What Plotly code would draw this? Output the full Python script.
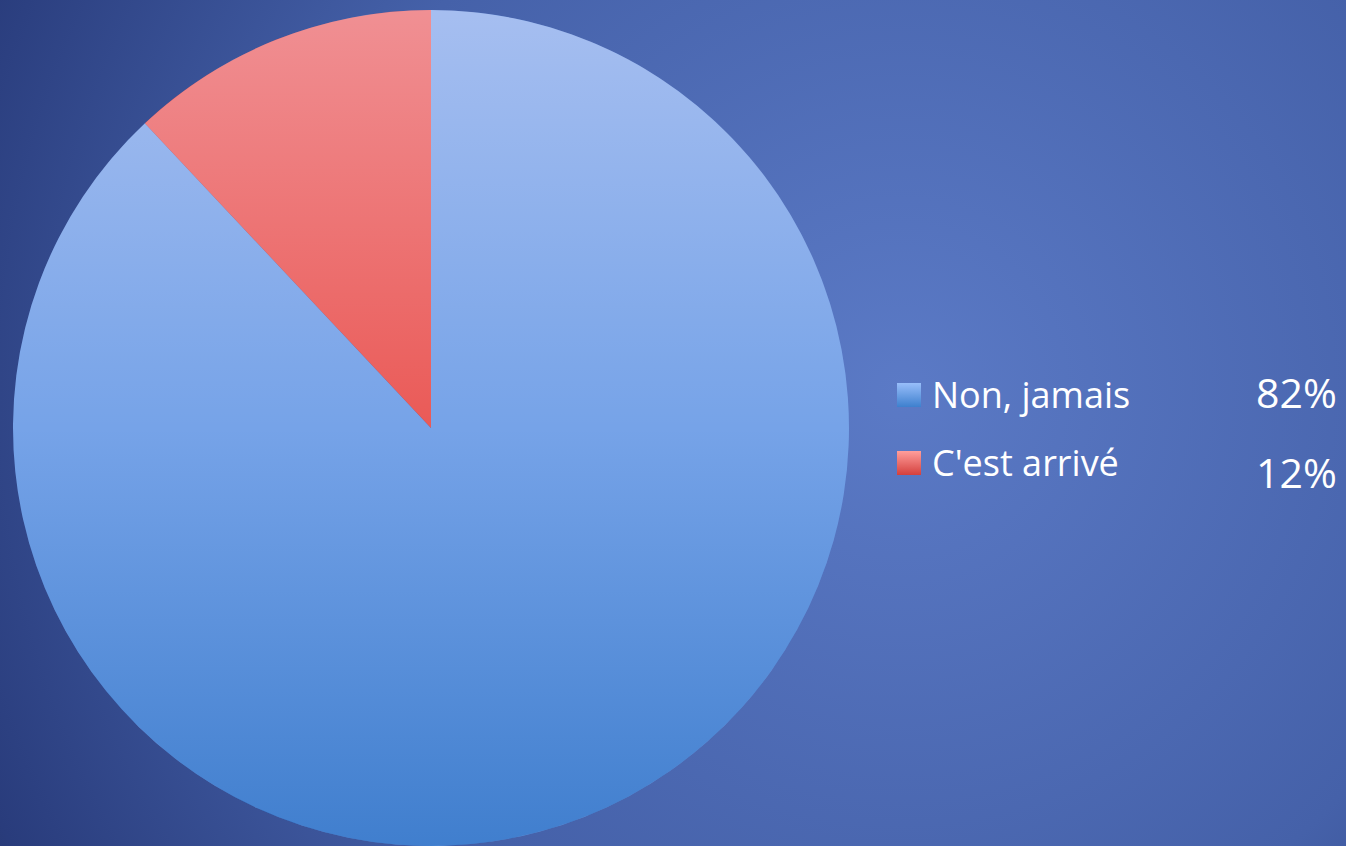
import base64
import plotly.graph_objects as go

# ---- data ----
labels = ["Non, jamais", "C'est arrivé"]
values = [88, 12]            # slice sizes
pct_labels = ["82%", "12%"]  # percentages printed next to the legend

# ---- style ----
W, H = 1346, 846
slice_colors = ["#76A3E8", "#EA5A57"]
swatch_grad = [("#98BEFA", "#3E80CE"), ("#FF9E9B", "#D4403D")]
FONT = "Open Sans"

# pie placement (paper coordinates)
cx_px, cy_px, r_px = 431, 428, 418
dom_x = [(cx_px - r_px) / W, (cx_px + r_px) / W]
dom_y = [1 - (cy_px + r_px) / H, 1 - (cy_px - r_px) / H]


def svg_uri(svg):
    return "data:image/svg+xml;base64," + base64.b64encode(svg.encode("utf-8")).decode("ascii")


bg_svg = f"""<svg xmlns='http://www.w3.org/2000/svg' width='{W}' height='{H}' viewBox='0 0 {W} {H}' preserveAspectRatio='none'>
<defs><radialGradient id='g' gradientUnits='userSpaceOnUse' cx='900' cy='390' r='1050'>
<stop offset='0' stop-color='#5B7AC6'/>
<stop offset='0.57' stop-color='#4561A9'/>
<stop offset='0.95' stop-color='#293C7C'/>
<stop offset='1' stop-color='#26386F'/>
</radialGradient></defs>
<rect x='0' y='0' width='{W}' height='{H}' fill='url(#g)'/>
</svg>"""

d = 2 * r_px
shade_svg = f"""<svg xmlns='http://www.w3.org/2000/svg' width='{d}' height='{d}' viewBox='0 0 {d} {d}' preserveAspectRatio='none'>
<defs><linearGradient id='s' x1='0' y1='0' x2='0' y2='1'>
<stop offset='0' stop-color='#FBEFFF' stop-opacity='0.36'/>
<stop offset='0.5' stop-color='#FBEFFF' stop-opacity='0'/>
<stop offset='0.5' stop-color='#0A5AB4' stop-opacity='0'/>
<stop offset='1' stop-color='#0A5AB4' stop-opacity='0.5'/>
</linearGradient></defs>
<circle cx='{r_px}' cy='{r_px}' r='{r_px}' fill='url(#s)'/>
</svg>"""


def swatch_svg(c1, c2):
    return f"""<svg xmlns='http://www.w3.org/2000/svg' width='24' height='24' viewBox='0 0 24 24' preserveAspectRatio='none'>
<defs><linearGradient id='w' x1='0' y1='0' x2='0' y2='1'>
<stop offset='0' stop-color='{c1}'/><stop offset='1' stop-color='{c2}'/>
</linearGradient></defs><rect width='24' height='24' fill='url(#w)'/></svg>"""


fig = go.Figure(
    go.Pie(
        labels=labels,
        values=values,
        sort=False,
        direction="clockwise",
        rotation=0,
        marker=dict(colors=slice_colors, line=dict(width=0)),
        textinfo="none",
        hoverinfo="label+value",
        domain=dict(x=dom_x, y=dom_y),
        showlegend=False,
    )
)

images = [
    dict(source=svg_uri(bg_svg), xref="paper", yref="paper", x=0, y=1, sizex=1, sizey=1,
         xanchor="left", yanchor="top", sizing="stretch", layer="below"),
    dict(source=svg_uri(shade_svg), xref="paper", yref="paper", x=dom_x[0], y=dom_y[1],
         sizex=dom_x[1] - dom_x[0], sizey=dom_y[1] - dom_y[0],
         xanchor="left", yanchor="top", sizing="stretch", layer="above"),
]

annotations = []
legend_rows_px = [395, 463]
pct_rows_px = [392, 472]
for i, lab in enumerate(labels):
    yc = legend_rows_px[i]
    images.append(dict(source=svg_uri(swatch_svg(*swatch_grad[i])), xref="paper", yref="paper",
                       x=897 / W, y=1 - (yc - 12) / H, sizex=24 / W, sizey=24 / H,
                       xanchor="left", yanchor="top", sizing="stretch", layer="above"))
    annotations.append(dict(text=lab, xref="paper", yref="paper", x=930 / W, y=1 - yc / H,
                            xanchor="left", yanchor="middle", showarrow=False,
                            font=dict(family=FONT, size=36, color="white")))
    annotations.append(dict(text=pct_labels[i], xref="paper", yref="paper", x=1339 / W,
                            y=1 - pct_rows_px[i] / H, xanchor="right", yanchor="middle",
                            showarrow=False, font=dict(family=FONT, size=41, color="white")))

fig.update_layout(
    width=W,
    height=H,
    margin=dict(l=0, r=0, t=0, b=0),
    paper_bgcolor="#3A539A",
    plot_bgcolor="rgba(0,0,0,0)",
    images=images,
    annotations=annotations,
    font=dict(family=FONT, color="white"),
)

fig.write_html(
    "out.html",
    config={"displayModeBar": False},
    post_script="document.body.style.margin='0';document.body.style.overflow='hidden';",
)
